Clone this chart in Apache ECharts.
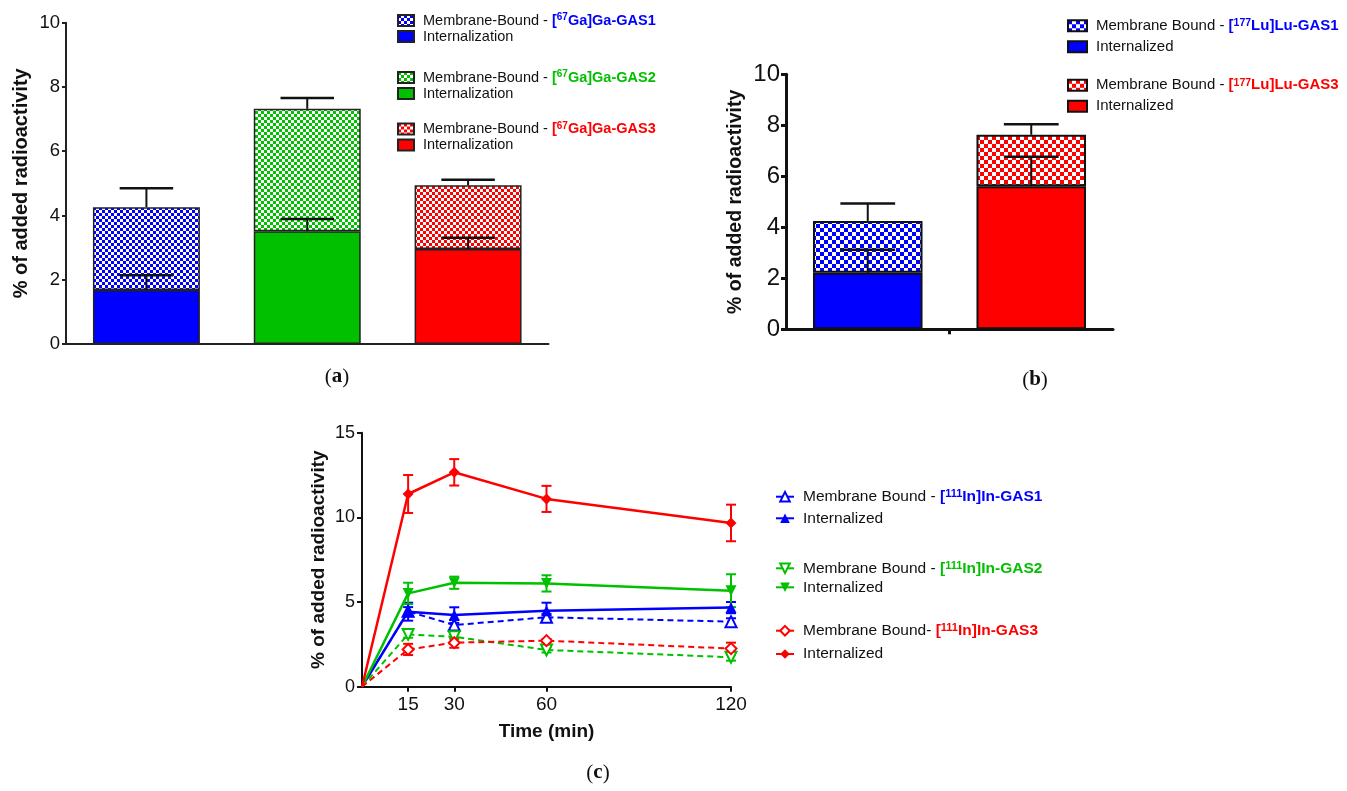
<!DOCTYPE html>
<html>
<head>
<meta charset="utf-8">
<script src="https://cdn.jsdelivr.net/npm/echarts@6/dist/echarts.min.js"></script>
<style>
  html, body { margin: 0; padding: 0; background: #fff; }
  #chart { width: 1347px; height: 791px; }
</style>
</head>
<body>
<div id="chart"></div>
<script>
// (a) [67Ga]Ga-GAS1..3, % of added radioactivity
const gaCompounds = ['GAS1', 'GAS2', 'GAS3'];
const gaInternal = [1.68, 3.51, 2.96];
const gaInternalSd = [0.46, 0.38, 0.35];
const gaMembrane = [2.58, 3.81, 1.98];
const gaTotalSd = [0.59, 0.34, 0.17];

// (b) [177Lu]Lu-GAS1 / GAS3
const luCompounds = ['GAS1', 'GAS3'];
const luInternal = [2.22, 5.61];
const luInternalSd = [0.90, 1.16];
const luMembrane = [2.03, 2.02];
const luTotalSd = [0.68, 0.41];

// (c) [111In]In time course
const times = [0, 15, 30, 60, 120];
const timeTicks = [15, 30, 60, 120];
const gas1Int = [0, 4.43, 4.23, 4.49, 4.67];
const gas1IntSd = [0, 0.53, 0.46, 0.47, 0.33];
const gas1Mb = [0, 4.45, 3.64, 4.10, 3.84];
const gas1MbSd = [0, 0.25, 0.30, 0.20, 0.20];
const gas2Int = [0, 5.51, 6.14, 6.10, 5.67];
const gas2IntSd = [0, 0.63, 0.36, 0.48, 0.97];
const gas2Mb = [0, 3.09, 2.95, 2.17, 1.74];
const gas2MbSd = [0, 0.20, 0.15, 0.15, 0.20];
const gas3Int = [0, 11.38, 12.66, 11.09, 9.67];
const gas3IntSd = [0, 1.12, 0.78, 0.77, 1.08];
const gas3Mb = [0, 2.20, 2.60, 2.72, 2.25];
const gas3MbSd = [0, 0.33, 0.30, 0.10, 0.35];

const BLUE = '#0000ff';
const GREEN = '#00c000';
const RED = '#ff0000';
const FONT = '"Liberation Sans", Arial, sans-serif';

function checker(color, cell) {
  const c = document.createElement('canvas');
  c.width = c.height = cell * 2;
  const g = c.getContext('2d');
  g.fillStyle = '#fff';
  g.fillRect(0, 0, cell * 2, cell * 2);
  g.fillStyle = color;
  g.fillRect(0, 0, cell, cell);
  g.fillRect(cell, cell, cell, cell);
  return { image: c, repeat: 'repeat' };
}

// put a value in one category only, the rest empty
function onlyAt(i, v, n) {
  return Array.from({ length: n }, (_, j) => (j === i ? v : '-'));
}

function barErr(ratio) {
  return function (params, api) {
    const x = api.value(0);
    const lo = api.coord([x, api.value(1)]);
    const hi = api.coord([x, api.value(2)]);
    const half = api.size([1, 0])[0] * ratio / 4;
    return {
      type: 'group',
      children: [
        { type: 'line', shape: { x1: lo[0], y1: lo[1], x2: hi[0], y2: hi[1] }, style: { stroke: '#111', lineWidth: 2 } },
        { type: 'line', shape: { x1: hi[0] - half, y1: hi[1], x2: hi[0] + half, y2: hi[1] }, style: { stroke: '#111', lineWidth: 2.5 } }
      ]
    };
  };
}

function lineErr(color) {
  return function (params, api) {
    const x = api.value(0);
    const lo = api.coord([x, api.value(1)]);
    const hi = api.coord([x, api.value(2)]);
    const half = 5;
    const st = { stroke: color, lineWidth: 2 };
    return {
      type: 'group',
      children: [
        { type: 'line', shape: { x1: lo[0], y1: lo[1], x2: hi[0], y2: hi[1] }, style: st },
        { type: 'line', shape: { x1: hi[0] - half, y1: hi[1], x2: hi[0] + half, y2: hi[1] }, style: st },
        { type: 'line', shape: { x1: lo[0] - half, y1: lo[1], x2: lo[0] + half, y2: lo[1] }, style: st }
      ]
    };
  };
}

function rich(fontSize, supSize) {
  const r = { n: { fontSize: fontSize, color: '#111', lineHeight: 16, fontFamily: FONT } };
  [['B', BLUE], ['G', GREEN], ['R', RED]].forEach(([k, col]) => {
    r['b' + k] = { fontSize: fontSize, color: col, fontWeight: 'bold', lineHeight: 16, fontFamily: FONT };
    r['s' + k] = { fontSize: supSize, color: col, fontWeight: 'bold', lineHeight: 8, verticalAlign: 'top', fontFamily: FONT };
  });
  return r;
}

const legendText = {
  a_mb1: '{n|Membrane-Bound - }{bB|[}{sB|67}{bB|Ga]Ga-GAS1}',
  a_in1: '{n|Internalization}',
  a_mb2: '{n|Membrane-Bound - }{bG|[}{sG|67}{bG|Ga]Ga-GAS2}',
  a_in2: '{n|Internalization}',
  a_mb3: '{n|Membrane-Bound - }{bR|[}{sR|67}{bR|Ga]Ga-GAS3}',
  a_in3: '{n|Internalization}',
  b_mb1: '{n|Membrane Bound - }{bB|[}{sB|177}{bB|Lu]Lu-GAS1}',
  b_in1: '{n|Internalized}',
  b_mb3: '{n|Membrane Bound - }{bR|[}{sR|177}{bR|Lu]Lu-GAS3}',
  b_in3: '{n|Internalized}',
  c_mb1: '{n|Membrane Bound - }{bB|[}{sB|111}{bB|In]In-GAS1}',
  c_in1: '{n|Internalized}',
  c_mb2: '{n|Membrane Bound - }{bG|[}{sG|111}{bG|In]In-GAS2}',
  c_in2: '{n|Internalized}',
  c_mb3: '{n|Membrane Bound- }{bR|[}{sR|111}{bR|In]In-GAS3}',
  c_in3: '{n|Internalized}'
};

function legend(names, left, top, gap, iw, ih, fontSize, supSize, extra) {
  return Object.assign({
    data: names,
    orient: 'vertical',
    left: left,
    top: top,
    padding: 0,
    itemGap: gap,
    itemWidth: iw,
    itemHeight: ih,
    selectedMode: false,
    formatter: (name) => legendText[name],
    textStyle: { padding: [0, 0, 0, 4], rich: rich(fontSize, supSize) }
  }, extra || {});
}

const series = [];

// (a) stacked bars
const gaColors = [BLUE, GREEN, RED];
gaCompounds.forEach((c, i) => {
  series.push({
    type: 'bar', name: 'a_in' + (i + 1), xAxisIndex: 0, yAxisIndex: 0, stack: 'a',
    barWidth: '66.5%', silent: true,
    data: onlyAt(i, gaInternal[i], gaCompounds.length),
    itemStyle: { color: gaColors[i], borderColor: '#222', borderWidth: 1.5 }
  });
  series.push({
    type: 'bar', name: 'a_mb' + (i + 1), xAxisIndex: 0, yAxisIndex: 0, stack: 'a',
    barWidth: '66.5%', silent: true,
    data: onlyAt(i, gaMembrane[i], gaCompounds.length),
    itemStyle: { color: checker(gaColors[i], 3), borderColor: '#222', borderWidth: 1.5 }
  });
});
series.push({
  type: 'custom', xAxisIndex: 0, yAxisIndex: 0, z: 5, silent: true,
  renderItem: barErr(0.665),
  encode: { x: 0, y: [1, 2] },
  data: gaCompounds.map((c, i) => [i, gaInternal[i], gaInternal[i] + gaInternalSd[i]])
    .concat(gaCompounds.map((c, i) => [i, gaInternal[i] + gaMembrane[i], gaInternal[i] + gaMembrane[i] + gaTotalSd[i]]))
});

// (b) stacked bars
const luColors = [BLUE, RED];
const luNames = ['1', '3'];
luCompounds.forEach((c, i) => {
  series.push({
    type: 'bar', name: 'b_in' + luNames[i], xAxisIndex: 1, yAxisIndex: 1, stack: 'b',
    barWidth: '67%', silent: true,
    data: onlyAt(i, luInternal[i], luCompounds.length),
    itemStyle: { color: luColors[i], borderColor: '#111', borderWidth: 2 }
  });
  series.push({
    type: 'bar', name: 'b_mb' + luNames[i], xAxisIndex: 1, yAxisIndex: 1, stack: 'b',
    barWidth: '67%', silent: true,
    data: onlyAt(i, luMembrane[i], luCompounds.length),
    itemStyle: { color: checker(luColors[i], 4), borderColor: '#111', borderWidth: 2 }
  });
});
series.push({
  type: 'custom', xAxisIndex: 1, yAxisIndex: 1, z: 5, silent: true,
  renderItem: barErr(0.67),
  encode: { x: 0, y: [1, 2] },
  data: luCompounds.map((c, i) => [i, luInternal[i], luInternal[i] + luInternalSd[i]])
    .concat(luCompounds.map((c, i) => [i, luInternal[i] + luMembrane[i], luInternal[i] + luMembrane[i] + luTotalSd[i]]))
});

// (c) time course
const lines = [
  { name: 'c_mb1', v: gas1Mb, sd: gas1MbSd, color: BLUE, symbol: 'emptyTriangle', rot: 0, dashed: true },
  { name: 'c_in1', v: gas1Int, sd: gas1IntSd, color: BLUE, symbol: 'triangle', rot: 0, dashed: false },
  { name: 'c_mb2', v: gas2Mb, sd: gas2MbSd, color: GREEN, symbol: 'emptyTriangle', rot: 180, dashed: true },
  { name: 'c_in2', v: gas2Int, sd: gas2IntSd, color: GREEN, symbol: 'triangle', rot: 180, dashed: false },
  { name: 'c_mb3', v: gas3Mb, sd: gas3MbSd, color: RED, symbol: 'emptyDiamond', rot: 0, dashed: true },
  { name: 'c_in3', v: gas3Int, sd: gas3IntSd, color: RED, symbol: 'diamond', rot: 0, dashed: false }
];
lines.forEach((l) => {
  series.push({
    type: 'custom', xAxisIndex: 3, yAxisIndex: 2, z: 2, silent: true,
    renderItem: lineErr(l.color),
    encode: { x: 0, y: [1, 2] },
    data: times.slice(1).map((t, k) => [t, l.v[k + 1] - l.sd[k + 1], l.v[k + 1] + l.sd[k + 1]])
  });
});
lines.forEach((l) => {
  series.push({
    type: 'line', name: l.name, xAxisIndex: 3, yAxisIndex: 2, z: 3, silent: true,
    symbol: l.symbol, symbolSize: 11, symbolRotate: l.rot,
    showAllSymbol: true,
    lineStyle: { color: l.color, width: l.dashed ? 2 : 2.5, type: l.dashed ? [6, 4] : 'solid' },
    itemStyle: { color: l.color, borderWidth: 1.5 },
    data: times.map((t, k) => (k === 0 ? { value: [t, l.v[k]], symbol: 'none' } : [t, l.v[k]]))
  });
});

const axisLabel = (size) => ({ color: '#111', fontSize: size, fontFamily: FONT });
const nameStyle = (size) => ({ color: '#111', fontSize: size, fontWeight: 'bold', fontFamily: FONT });

const option = {
  animation: false,
  grid: [
    { left: 66, top: 22.7, width: 482.5, height: 321.3 },
    { left: 786, top: 74.3, width: 327, height: 255 },
    { left: 362, top: 432.7, width: 369, height: 254 }
  ],
  xAxis: [
    {
      type: 'category', gridIndex: 0, data: gaCompounds,
      axisLine: { lineStyle: { color: '#222', width: 2 } },
      axisTick: { show: false }, axisLabel: { show: false }
    },
    {
      type: 'category', gridIndex: 1, data: luCompounds,
      axisLine: { lineStyle: { color: '#111', width: 3 } },
      axisTick: { show: false },
      axisLabel: { show: false }
    },
    {
      // only carries the single tick between the two (b) bars
      type: 'value', gridIndex: 1, position: 'bottom', min: 0, max: 2,
      axisLine: { show: false },
      axisTick: { show: true, length: 5, customValues: [1], lineStyle: { color: '#111', width: 3 } },
      axisLabel: { show: false },
      splitLine: { show: false }
    },
    {
      type: 'value', gridIndex: 2, min: 0, max: 120,
      name: 'Time (min)', nameLocation: 'middle', nameGap: 36, nameTextStyle: nameStyle(19),
      axisLine: { lineStyle: { color: '#111', width: 2 } },
      axisTick: { show: true, length: 5, customValues: timeTicks, lineStyle: { color: '#111', width: 2 } },
      axisLabel: Object.assign(axisLabel(19), { customValues: timeTicks, margin: 9 }),
      splitLine: { show: false }
    }
  ],
  yAxis: [
    {
      type: 'value', gridIndex: 0, min: 0, max: 10, interval: 2,
      name: '% of added radioactivity', nameLocation: 'middle', nameGap: 35, nameTextStyle: nameStyle(20),
      axisLine: { show: true, lineStyle: { color: '#222', width: 2 } },
      axisTick: { show: true, length: 4, lineStyle: { color: '#222', width: 2 } },
      axisLabel: Object.assign(axisLabel(18.5), { margin: 6 }),
      splitLine: { show: false }
    },
    {
      type: 'value', gridIndex: 1, min: 0, max: 10, interval: 2,
      name: '% of added radioactivity', nameLocation: 'middle', nameGap: 40, nameTextStyle: nameStyle(19.5),
      axisLine: { show: true, lineStyle: { color: '#111', width: 3 } },
      axisTick: { show: true, length: 5, lineStyle: { color: '#111', width: 3 } },
      axisLabel: Object.assign(axisLabel(24), { margin: 6 }),
      splitLine: { show: false }
    },
    {
      type: 'value', gridIndex: 2, min: 0, max: 15, interval: 5,
      name: '% of added radioactivity', nameLocation: 'middle', nameGap: 34, nameTextStyle: nameStyle(19),
      axisLine: { show: true, lineStyle: { color: '#111', width: 2 } },
      axisTick: { show: true, length: 5, lineStyle: { color: '#111', width: 2 } },
      axisLabel: Object.assign(axisLabel(18), { margin: 7 }),
      splitLine: { show: false }
    }
  ],
  legend: [
    legend(['a_mb1', 'a_in1'], 397, 12.5, 1, 16, 11, 14.5, 10, { icon: 'rect' }),
    legend(['a_mb2', 'a_in2'], 397, 69.5, 1, 16, 11, 14.5, 10, { icon: 'rect' }),
    legend(['a_mb3', 'a_in3'], 397, 121, 1, 16, 11, 14.5, 10, { icon: 'rect' }),
    legend(['b_mb1', 'b_in1'], 1067, 17.7, 6, 19, 11, 15, 10.5, { icon: 'rect' }),
    legend(['b_mb3', 'b_in3'], 1067, 77.3, 6, 19, 11, 15, 10.5, { icon: 'rect' }),
    legend(['c_mb1', 'c_in1'], 775, 488.7, 5.6, 18, 12, 15.5, 11, { lineStyle: { type: 'solid', width: 2 } }),
    legend(['c_mb2', 'c_in2'], 775, 560.3, 3, 18, 12, 15.5, 11, { lineStyle: { type: 'solid', width: 2 } }),
    legend(['c_mb3', 'c_in3'], 775, 622.7, 7.3, 18, 12, 15.5, 11, { lineStyle: { type: 'solid', width: 2 } })
  ],
  graphic: [
    ['a', 337, 377], ['b', 1035, 380], ['c', 598, 773]
  ].map(([t, x, y]) => ({
    type: 'text', x: x, y: y,
    style: {
      text: '{p|(}{l|' + t + '}{p|)}',
      align: 'center', verticalAlign: 'middle',
      rich: {
        p: { fontSize: 21, fontFamily: '"Liberation Serif", "DejaVu Serif", serif', fill: '#111' },
        l: { fontSize: 21, fontWeight: 'bold', fontFamily: '"Liberation Serif", "DejaVu Serif", serif', fill: '#111' }
      }
    }
  })),
  series: series
};

const chart = echarts.init(document.getElementById('chart'), null, { renderer: 'canvas' });
chart.setOption(option);
</script>
</body>
</html>
